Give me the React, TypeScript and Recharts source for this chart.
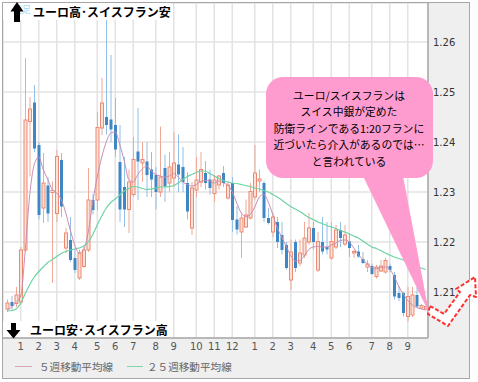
import React from "react";
import { ComposedChart, Bar, Line, XAxis, YAxis, CartesianGrid, Legend } from "recharts";

// 週足 EUR/CHF: one entry per week
const monthStart = [3, 7, 11, 15, 20, 24, 28, 33, 37, 42, 46, 50, 55, 59, 63, 68, 72, 76, 81, 85, 89];
const monthLabels = ["1", "2", "3", "4", "5", "6", "7", "8", "9", "10", "11", "12", "1", "2", "3", "4", "5", "6", "7", "8", "9"];
const yTicks = [1.21, 1.22, 1.23, 1.24, 1.25, 1.26];

const open = [
  1.2066, 1.208, 1.2077, 1.208, 1.2184, 1.2441, 1.2479, 1.2394, 1.2268, 1.2313,
  1.2299, 1.2257, 1.2364, 1.2188, 1.2204, 1.2168, 1.2128, 1.2151, 1.2184, 1.2284,
  1.2284, 1.2428, 1.245, 1.2445, 1.2434, 1.236, 1.231, 1.2265, 1.2295, 1.2381,
  1.2358, 1.2361, 1.2345, 1.2334, 1.23, 1.2348, 1.2318, 1.2328, 1.2355, 1.235,
  1.2318, 1.2228, 1.2304, 1.232, 1.2338, 1.2325, 1.2297, 1.2314, 1.2338, 1.2288,
  1.2318, 1.2245, 1.222, 1.223, 1.2248, 1.229, 1.2322, 1.2318, 1.2248, 1.222,
  1.224, 1.2214, 1.2194, 1.2124, 1.22, 1.2158, 1.2174, 1.22, 1.2228, 1.2144,
  1.22, 1.219, 1.2168, 1.219, 1.2224, 1.2196, 1.2201, 1.2178, 1.2181, 1.2166,
  1.215, 1.2152, 1.2131, 1.2142, 1.214, 1.2152, 1.2134, 1.2098, 1.2098, 1.2051,
  1.2054, 1.2094, 1.2068, 1.2066,
];
const close = [
  1.2078, 1.2072, 1.2094, 1.2184, 1.2444, 1.2466, 1.2387, 1.2254, 1.2318, 1.2257,
  1.2303, 1.2371, 1.2271, 1.2218, 1.2164, 1.2144, 1.2178, 1.2184, 1.2284, 1.2264,
  1.2429, 1.2478, 1.2434, 1.2425, 1.2385, 1.2265, 1.2265, 1.232, 1.2365, 1.2361,
  1.2365, 1.2334, 1.2325, 1.23, 1.233, 1.2311, 1.235, 1.2358, 1.2335, 1.232,
  1.2261, 1.2308, 1.2324, 1.2345, 1.2318, 1.2308, 1.2324, 1.2332, 1.2318, 1.2314,
  1.2244, 1.2225, 1.2248, 1.2254, 1.2301, 1.2338, 1.2326, 1.2248, 1.2238, 1.225,
  1.22, 1.2184, 1.2148, 1.218, 1.2148, 1.2178, 1.2208, 1.2228, 1.22, 1.2201,
  1.2181, 1.2185, 1.2201, 1.2224, 1.2208, 1.2214, 1.2188, 1.2181, 1.2171, 1.2158,
  1.2156, 1.2136, 1.215, 1.2152, 1.2163, 1.2144, 1.2091, 1.2088, 1.2058, 1.2091,
  1.2094, 1.2071, 1.2073, 1.2071,
];
const high = [
  1.2085, 1.2092, 1.211, 1.219, 1.2568, 1.249, 1.2514, 1.24, 1.2378, 1.233,
  1.2321, 1.2384, 1.2378, 1.2228, 1.225, 1.2185, 1.2185, 1.219, 1.2348, 1.2296,
  1.246, 1.2528, 1.2648, 1.2574, 1.2488, 1.2434, 1.237, 1.2345, 1.241, 1.2468,
  1.24, 1.24, 1.238, 1.235, 1.2431, 1.2375, 1.238, 1.242, 1.2415, 1.239,
  1.234, 1.232, 1.237, 1.238, 1.2362, 1.2345, 1.2334, 1.2334, 1.2352, 1.2322,
  1.233, 1.2272, 1.2258, 1.2285, 1.2318, 1.2394, 1.2345, 1.2322, 1.2268, 1.2258,
  1.225, 1.224, 1.22, 1.2205, 1.2205, 1.2205, 1.224, 1.2258, 1.224, 1.222,
  1.225, 1.224, 1.224, 1.2234, 1.224, 1.2234, 1.2218, 1.2184, 1.2194, 1.218,
  1.2164, 1.2157, 1.2154, 1.2164, 1.2168, 1.2157, 1.214, 1.2112, 1.21, 1.211,
  1.211, 1.211, 1.2076, 1.2073,
];
const low = [
  1.206, 1.2065, 1.207, 1.2075, 1.218, 1.2331, 1.238, 1.2245, 1.2238, 1.224,
  1.2118, 1.224, 1.225, 1.2178, 1.216, 1.2138, 1.2124, 1.2148, 1.218, 1.2255,
  1.2264, 1.2414, 1.2415, 1.24, 1.237, 1.224, 1.223, 1.2218, 1.229, 1.2284,
  1.232, 1.229, 1.229, 1.2265, 1.229, 1.228, 1.23, 1.231, 1.23, 1.23,
  1.2245, 1.2214, 1.229, 1.231, 1.2305, 1.2295, 1.228, 1.2305, 1.231, 1.2285,
  1.222, 1.2215, 1.2168, 1.2228, 1.2245, 1.2285, 1.23, 1.224, 1.2235, 1.221,
  1.2188, 1.2175, 1.2145, 1.2104, 1.214, 1.2152, 1.2168, 1.2195, 1.2185, 1.214,
  1.2175, 1.2175, 1.2165, 1.2186, 1.219, 1.2192, 1.217, 1.2168, 1.2168, 1.2156,
  1.214, 1.2134, 1.2127, 1.214, 1.2137, 1.214, 1.2085, 1.2082, 1.2051, 1.2041,
  1.205, 1.2068, 1.2066, 1.2064,
];
const ma5 = [
  1.2064, 1.207, 1.208, 1.2092, 1.2184, 1.2295, 1.2355, 1.237, 1.2345, 1.2325,
  1.2305, 1.2298, 1.2285, 1.2258, 1.2224, 1.2194, 1.2178, 1.2185, 1.222, 1.228,
  1.233, 1.237, 1.24, 1.2418, 1.242, 1.2395, 1.2362, 1.2325, 1.232, 1.2335,
  1.2346, 1.2352, 1.2342, 1.2335, 1.2332, 1.233, 1.2332, 1.2337, 1.233, 1.232,
  1.2315, 1.2312, 1.2315, 1.2321, 1.2323, 1.2322, 1.2318, 1.2322, 1.2318, 1.2314,
  1.23, 1.2278, 1.2258, 1.2251, 1.2255, 1.227, 1.229, 1.2295, 1.228, 1.2255,
  1.2228, 1.221, 1.2191, 1.2173, 1.2162, 1.2163, 1.2172, 1.2185, 1.219, 1.2191,
  1.219, 1.219, 1.2194, 1.2198, 1.2203, 1.2204, 1.22, 1.2188, 1.2175, 1.2165,
  1.2156, 1.2149, 1.2147, 1.2149, 1.215, 1.2145, 1.2131, 1.2111, 1.2096, 1.2083,
  1.2074, 1.2069, 1.2066, 1.2064,
];
const ma25 = [
  1.2062, 1.2063, 1.2066, 1.2078, 1.2097, 1.2115, 1.213, 1.2141, 1.215, 1.2159,
  1.2165, 1.2171, 1.2177, 1.2181, 1.2184, 1.2186, 1.2188, 1.2192, 1.22, 1.2215,
  1.2234, 1.2252, 1.2268, 1.2279, 1.2286, 1.2294, 1.2302, 1.2307, 1.2311, 1.231,
  1.2307, 1.2305, 1.2306, 1.2308, 1.231, 1.231, 1.2311, 1.2313, 1.2318, 1.2325,
  1.2331, 1.2335, 1.2339, 1.2342, 1.2342, 1.2337, 1.2332, 1.2327, 1.2323, 1.232,
  1.2318, 1.2317, 1.2315, 1.2313, 1.2311, 1.2308, 1.2306, 1.2303, 1.23, 1.2295,
  1.229, 1.2284, 1.2277, 1.2271, 1.2266, 1.2261, 1.2255, 1.2249, 1.2245, 1.224,
  1.2237, 1.2233, 1.223, 1.2227, 1.2223, 1.222, 1.2216, 1.2212, 1.2208, 1.2202,
  1.2196, 1.219, 1.2187, 1.2183, 1.2178, 1.2174, 1.217, 1.2167, 1.2164, 1.216,
  1.2156, 1.2152, 1.2148, 1.2145,
];

const data = open.map((o, i) => ({
  i,
  open: o,
  high: high[i],
  low: low[i],
  close: close[i],
  ma5: ma5[i],
  ma25: ma25[i],
}));

const UP_STROKE = "#ec8a74";
const UP_FILL = "#fde1d7";
const UP_WICK = "#f2a896";
const DN_FILL = "#3f86c4";
const DN_WICK = "#92c0e6";
const MA5_COLOR = "#c98db2";
const MA25_COLOR = "#6dd3a3";

function Candle(props: any) {
  const { x, y, width, height, payload } = props;
  if (!payload) return null;
  const { open: o, close: c, high: h, low: l } = payload;
  const top = Math.min(y, y + height);
  const span = Math.abs(height);
  const k = h === l ? 0 : span / (h - l);
  const py = (v: number) => top + (h - v) * k;
  const cx = x + width / 2;
  const up = c >= o;
  const bTop = py(Math.max(o, c));
  const bH = Math.max(1, py(Math.min(o, c)) - bTop);
  return (
    <g>
      <line x1={cx} x2={cx} y1={top} y2={top + span} stroke={up ? UP_WICK : DN_WICK} strokeWidth={1} />
      {up ? (
        <rect x={cx - 1.5} y={bTop} width={3} height={bH} fill={UP_FILL} stroke={UP_STROKE} strokeWidth={1} />
      ) : (
        <rect x={cx - 1.5} y={bTop} width={3} height={bH} fill={DN_FILL} />
      )}
    </g>
  );
}

const legendItems = [
  { label: "５週移動平均線", color: "#d8a2b8", lineLeft: 12, lineW: 17, textLeft: 36 },
  { label: "２５週移動平均線", color: "#7dd6ad", lineLeft: 124, lineW: 16, textLeft: 144 },
];

function ChartLegend() {
  return (
    <div style={{ position: "relative", height: 18, fontFamily: "'Noto Sans CJK JP', sans-serif" }}>
      {legendItems.map((it) => (
        <React.Fragment key={it.label}>
          <div style={{ position: "absolute", left: it.lineLeft, top: 6, width: it.lineW, height: 1, background: it.color }} />
          <div style={{ position: "absolute", left: it.textLeft, top: 0, lineHeight: "14px", fontSize: 10.6, color: "#666", whiteSpace: "nowrap" }}>
            {it.label}
          </div>
        </React.Fragment>
      ))}
    </div>
  );
}

const jp = "'Noto Sans CJK JP', sans-serif";
const bubbleLines = [
  "ユーロ/スイスフランは",
  "スイス中銀が定めた",
  "防衛ラインである1:20フランに",
  "近づいたら介入があるのでは…",
  "と言われている",
];

export default function App() {
  return (
    <div style={{ position: "absolute", left: 0, top: 0, width: 478, height: 382, background: "#fff" }}>
      <div
        style={{
          position: "absolute",
          left: 2,
          top: 2,
          width: 468,
          height: 377,
          boxSizing: "border-box",
          border: "1px solid #a6a6a6",
          background: "#efefef",
        }}
      />
      <div style={{ position: "absolute", left: 3, top: 3 }}>
        <ComposedChart
          width={466}
          height={375}
          data={data}
          margin={{ top: 0, right: 0, bottom: 0, left: 0 }}
          barCategoryGap={0}
        >
          <CartesianGrid fill="#ffffff" stroke="#e3e3e3" strokeWidth={1.6} />
          <XAxis
            dataKey="i"
            type="category"
            ticks={monthStart}
            interval={0}
            tickFormatter={(v) => monthLabels[monthStart.indexOf(Number(v))] ?? ""}
            padding={{ left: 2, right: 0 }}
            height={22}
            tickLine={false}
            tickSize={4}
            tickMargin={1}
            axisLine={{ stroke: "#a8a8a8", strokeWidth: 1.5 }}
            tick={{ fill: "#555", fontSize: 10, fontFamily: "'DejaVu Sans', sans-serif" }}
          />
          <YAxis
            orientation="right"
            width={41}
            domain={[1.2008, 1.2678]}
            allowDataOverflow
            ticks={yTicks}
            tickFormatter={(v) => Number(v).toFixed(2)}
            tickLine={false}
            tickSize={4}
            tickMargin={1}
            axisLine={{ stroke: "#a8a8a8", strokeWidth: 1.5 }}
            tick={{ fill: "#333", fontSize: 10, fontFamily: "'DejaVu Sans', sans-serif" }}
          />
          <Legend verticalAlign="bottom" height={18} content={() => <ChartLegend />} />
          <Bar dataKey={(d: any) => [d.low, d.high]} shape={<Candle />} isAnimationActive={false} legendType="none" />
          <Line type="monotone" dataKey="ma25" stroke={MA25_COLOR} strokeWidth={1.2} dot={false} isAnimationActive={false} />
          <Line type="monotone" dataKey="ma5" stroke={MA5_COLOR} strokeWidth={1} dot={false} isAnimationActive={false} />
        </ComposedChart>
      </div>

      <svg width={478} height={382} style={{ position: "absolute", left: 0, top: 0, pointerEvents: "none" }}>
        {/* top-left label */}
        <rect x={3} y={3} width={168} height={17} fill="#fff" />
        <text x={13} y={13} fontSize={9} fill="#a6daf3" fontFamily={jp}>週足</text>
        <polygon points="17,2 23.5,11.5 20,11.5 20,22 14,22 14,11.5 10.5,11.5" fill="#000" />
        <text x={33} y={16.5} fontSize={12} fontWeight="bold" fill="#000" fontFamily={jp}>ユーロ高･スイスフラン安</text>

        {/* bottom-left label */}
        <rect x={3} y={321} width={165} height={16} fill="#fff" />
        <polygon points="11,323 16,323 16,330 20.5,330 13.5,338.5 6.5,330 11,330" fill="#000" />
        <text x={30} y={335} fontSize={12} fontWeight="bold" fill="#000" fontFamily={jp}>ユーロ安･スイスフラン高</text>

        {/* speech bubble */}
        <polygon points="363,176 403,176 429,313" fill="#ff9ccf" />
        <rect x={266} y={77} width={167} height={101} rx={17} ry={17} fill="#ff9ccf" />
        {bubbleLines.map((t, k) => (
          <text key={k} x={349} y={99.5 + k * 16.5} fontSize={10.8} fill="#000" textAnchor="middle" fontFamily={jp}>
            {t}
          </text>
        ))}

        {/* red dashed check arrow */}
        <polygon
          points="430,306 444,314 460,292 456,289 475,277 476,297 470,295 448,326 428,314"
          fill="#ffffff"
          stroke="#ff3030"
          strokeWidth={2}
          strokeDasharray="4 2"
          strokeLinejoin="round"
        />
      </svg>
    </div>
  );
}
